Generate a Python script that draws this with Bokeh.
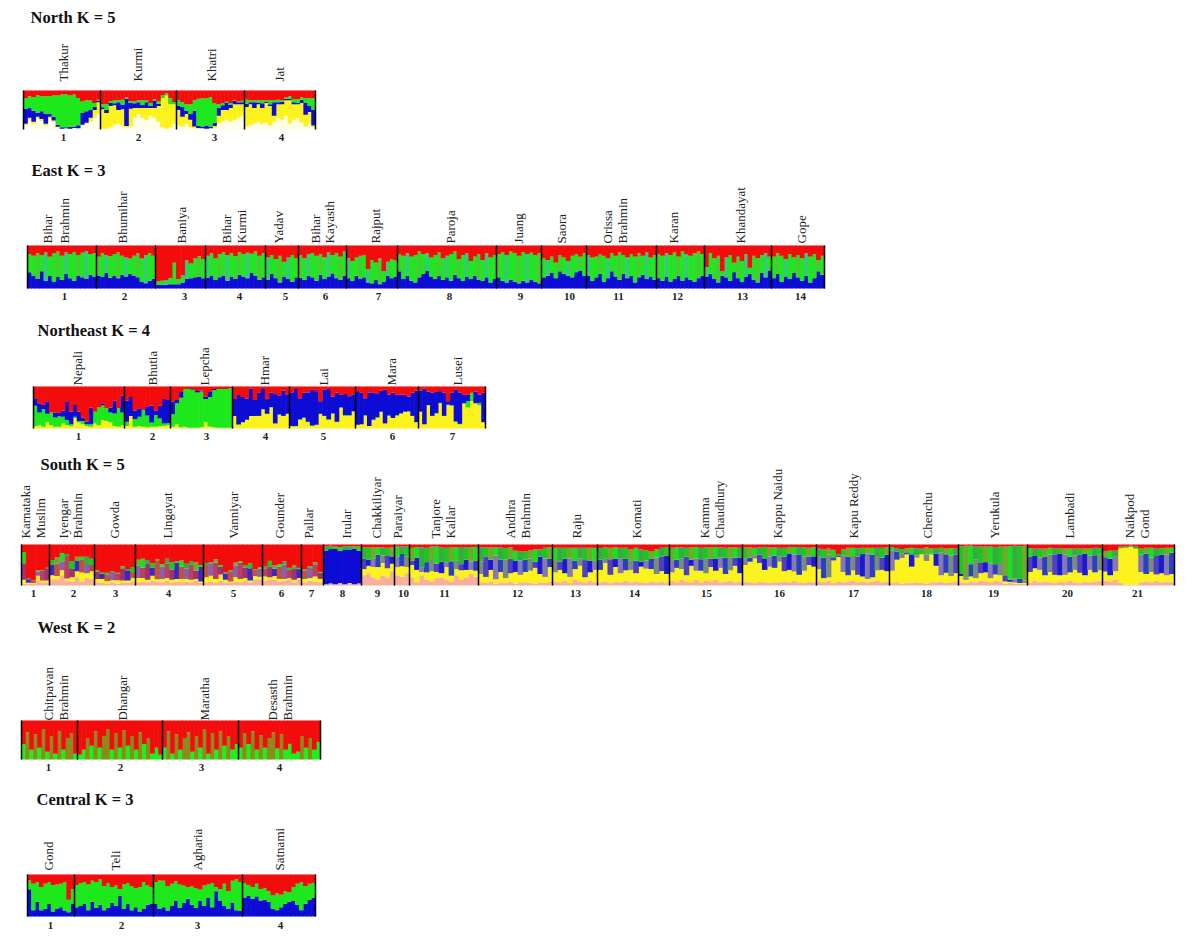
from itertools import cycle, islice
from math import pi
from bokeh.core.properties import value
from bokeh.embed import file_html
from bokeh.resources import INLINE
from bokeh.models import ColumnDataSource, Range1d
from bokeh.plotting import figure

# ---------- values: ancestry share (%) per individual, one inner list per population ----------
NORTH_WHITE = [[12,25,15,28,22,10,28,20,5,2,3,2,4,3,10,15,20,30,40],[2,2,5,12,15,10,5,8,30,40,30,25,35,30,20,5,2,5,15],[10,8,15,5,3,2,3,2,3,4,15,20,25,20,25,30,35],[8,10,15,20,15,18,10,20,30,25,35,15,25,30,18,8,15,5]]
NORTH_YELLOW = [[3,5,5,5,5,5,5,3,2,0,0,0,0,0,2,2,10,20,30],[50,40,55,50,35,42,4,45,25,15,25,30,20,25,40,75,85,60,50],[40,25,25,20,5,2,0,0,0,5,20,30,25,35,40,35,30],[50,55,40,45,40,50,50,15,35,40,40,60,40,35,50,30,30,5]]
NORTH_BLUE = [[38,25,28,10,20,25,8,10,5,4,3,5,3,8,30,30,20,8,3],[5,8,8,5,20,12,70,15,12,15,8,15,5,18,6,0,0,0,0],[10,25,8,15,40,5,5,8,5,8,20,12,18,8,8,5,5],[8,5,15,4,12,4,5,35,5,6,4,4,5,3,8,30,15,40]]
NORTH_GREEN = [[27,30,35,45,38,45,45,55,75,84,85,80,83,70,30,28,25,10,3],[8,15,5,8,5,12,3,5,5,5,12,5,8,4,6,8,5,15,5],[15,12,17,25,27,70,72,70,75,50,10,5,3,5,2,2,4],[10,5,5,6,8,3,10,5,6,4,3,6,8,10,6,12,20,30]]

EAST_BLUE = [[38,30,22,40,18,30,16,28,20,34,24,18,30,26,22,32,28],[30,28,36,25,30,24,32,28,34,30,26,15,12,18,22],[8,8,9,10,10,10,14,22,24,26,28,24],[25,30,20,26,30,18,28,22,32,28,24,36,30,20,26],[20,34,24,14,28,22,16,26],[25,20,30,26,18,32,22,28,35,24,20,30],[24,18,30,22,26,14,12,20,10,16,30,24,28],[40,22,30,18,14,26,34,42,28,22,30,20,26,18,32,24,18,28,22,30,20,18,26,14,22],[26,18,14,20,16,12,18,14,20,16,12],[26,30,36,24,40,34,30,26,38,42,30],[30,18,26,34,16,24,40,28,20,34,24,30,14,26,32,22,28,20],[24,18,28,16,22,30,18,26,20,16,24,30],[28,34,22,14,30,26,18,38,24,16,28,34,20,14,36,26,42],[24,34,16,28,22,36,26,18,30,14,24,40,32]]
EAST_RED = [[20,24,18,22,16,26,18,14,24,16,20,15,22,17,13,20,18],[26,18,22,25,20,16,24,28,30,24,18,30,22,18,24],[84,82,80,76,40,78,70,35,42,30,25,32],[24,18,30,20,16,22,18,25,15,20,17,19,14,24,18],[28,22,32,24,38,28,22,30],[22,30,20,18,24,20,28,16,22,18,26,14],[30,36,28,24,22,55,34,40,30,60,38,32,35],[20,24,18,26,22,14,20,18,28,22,16,30,24,20,14,32,22,18,36,26,20,34,18,28,22],[20,16,22,14,18,24,15,20,17,22,18],[30,34,26,40,22,28,36,24,20,26,18],[22,28,26,20,24,30,18,24,16,22,28,20,26,18,24,16,28,22],[20,24,18,22,16,26,14,20,24,18,14,20],[50,18,30,24,60,28,22,40,26,36,20,52,24,30,22,18,26],[26,18,24,32,20,28,22,30,18,26,20,34,24]]

NE_YELLOW = [[6,8,4,15,8,4,4,12,8,6,25,14,10,6,4,12,8,20,18,14,6,4,8],[6,30,4,6,4,3,4,4,6,6,8],[4,10,3,4,2,2,2,3,15,5,3,2,2,2,2],[30,8,15,20,30,30,30,45,35,50,12,32,30,35],[5,5,20,25,15,6,8,35,30,20,35,15,50,30,30,40],[8,10,30,6,20,25,40,12,30,25,30,35,40,40,30,15],[40,10,55,30,35,60,30,55,55,15,10,60,50,65,60,55,15]]
NE_GREEN = [[48,30,42,20,30,22,25,16,12,4,3,4,8,4,6,28,42,35,30,24,30,45,30],[10,0,18,22,40,28,10,28,18,6,5],[30,50,70,90,92,90,84,85,55,70,88,92,92,92,94],[0,2,0,1,0,0,0,1,0,1,0,2,0,0],[1,1,2,1,1,1,1,0,0,2,1,1,0,2,2,1],[1,0,2,0,1,2,0,0,1,0,2,1,0,1,0,0],[0,0,1,0,2,1,0,2,0,2,1,0,15,20,0,6,0]]
NE_BLUE = [[18,22,10,30,0,12,8,14,45,30,28,22,8,6,40,0,0,5,0,12,30,0,40],[50,45,20,20,2,22,40,10,30,58,55],[30,8,14,0,0,2,3,2,6,12,3,0,0,0,0],[40,70,60,50,65,38,56,50,35,35,70,45,60,45],[80,88,50,60,70,85,80,30,62,72,40,70,30,50,45,40],[80,75,40,80,65,55,50,80,50,60,48,45,40,35,55,75],[50,85,32,55,50,28,55,8,30,75,75,20,15,0,28,20,70]]

SOUTH_PINK = [[4,5,4,12,6,8],[15,15,25,12,10,20,10,18,15],[8,6,5,8,5,8,6,10],[8,10,8,12,10,8,12,6,10,8,10,8,12,6],[8,10,6,12,8,6,10,8,12,8,15,15],[12,14,15,10,12,14,8,14],[8,12,10,8],[3,4,3,6,3,5,3,4],[25,30,20,15,25,20,35],[25,22,30],[20,8,25,14,10,18,20,15,10,25,15,20,28,22],[8,6,10,5,8,6,10,5,8,8,6,5,8,6,10],[10,8,12,6,15,10,8,12,8],[8,10,6,10,8,12,8,10,8,6,10,8,10,6],[12,8,15,10,8,14,8,12,10,14,8,10,12,8,10],[10,8,6,10,8,6,8,8,10,8,12,8,6,10,8],[10,8,12,6,10,8,10,12,8,10,8,10,12,8,10],[6,8,5,6,6,8,6,5,8,8,10,6,8,10],[8,6,10,8,12,10,8,12,10,4,6,4,4,4],[8,12,8,10,8,6,10,8,12,8,6,10,8,10,12],[12,10,15,6,2,2,2,8,10,8,12,8,10,8]]
SOUTH_YELLOW = [[10,2,2,12,6,4],[10,8,12,5,10,15,22,12,20],[8,10,6,5,8,4,6,8],[10,8,6,12,5,8,6,8,6,8,6,6,4,4],[12,14,10,15,6,4,10,8,6,4,8,6],[10,6,8,6,4,4,6,4],[8,6,12,8],[0,1,0,0,0,1,0,1],[15,18,25,30,30,22,18],[20,25,15],[30,30,8,18,25,15,10,30,14,15,22,18,10,14],[20,15,28,10,25,12,20,28,18,25,30,38,20,15,35],[22,30,18,15,25,38,12,20,30],[30,45,20,35,22,25,30,20,38,35,30,20,25,22],[20,35,25,15,40,22,28,18,35,22,35,18,25,40,20],[40,50,60,45,30,40,35,50,25,30,22,18,30,40,38],[30,10,8,55,60,25,15,25,18,12,8,10,25,30,25],[30,55,62,70,40,60,70,55,68,40,15,25,15,20],[15,8,12,10,18,22,10,15,15,6,3,3,2,2],[25,30,30,15,25,20,15,18,20,30,25,15,30,22,25],[22,15,20,85,90,92,88,25,18,25,15,22,15,20]]
SOUTH_BLUE = [[40,8,6,10,25,28],[25,30,22,55,20,25,30,20,15],[18,12,15,20,15,30,25,15],[30,25,40,20,45,30,35,25,40,30,25,38,20,35],[30,30,40,18,15,25,28,40,25,30,15,20],[20,25,18,30,35,20,28,22],[20,25,30,15],[82,84,86,78,85,82,86,80],[25,15,20,30,18,30,18],[25,30,25],[10,30,10,25,30,20,28,12,35,20,15,25,20,25],[30,50,25,58,30,45,35,28,35,30,30,15,42,45,20],[30,20,35,45,20,18,42,28,22],[25,10,38,20,35,28,22,30,12,20,25,40,35,45],[30,20,25,45,15,30,28,35,20,30,25,40,32,20,38],[15,10,8,20,28,25,30,12,35,40,42,50,35,20,25],[30,50,55,8,2,40,45,35,45,55,62,55,35,30,40],[50,20,12,5,30,5,0,15,2,30,55,45,50,45],[5,5,30,45,25,25,35,25,30,15,5,10,10,6],[38,30,30,45,42,50,52,50,38,35,45,52,35,40,38],[35,40,35,0,0,0,0,42,50,35,45,45,50,52]]
SOUTH_GREEN = [[28,3,0,4,1,3],[12,15,20,5,20,10,8,20,15],[4,3,5,2,3,5,3,12],[15,22,8,10,4,6,12,18,4,15,12,8,20,5],[5,3,8,5,3,2,8,4,6,12,2,3],[4,15,8,6,8,5,8,3],[3,4,5,2],[10,8,6,10,8,8,7,10],[28,30,28,18,20,20,22],[25,18,25],[32,26,50,35,30,42,35,35,35,33,42,30,36,33],[35,22,30,20,30,28,28,24,22,20,20,30,18,26,28],[30,34,27,26,32,26,30,32,32],[28,28,28,28,27,27,28,32,30,25,18,20,22,20],[30,30,28,22,30,28,28,28,28,28,25,24,24,25,24],[28,25,18,18,28,22,20,22,22,16,18,18,22,22,22],[20,20,15,18,5,15,22,20,20,15,14,17,20,24,18],[8,8,10,10,16,18,14,18,12,12,12,14,18,15],[68,78,45,32,40,38,42,42,40,70,82,80,80,85],[20,18,22,20,17,14,13,14,20,17,14,13,17,20,16],[15,20,15,4,3,3,5,15,14,24,18,16,17,12]]

WEST_GREEN = [[40,70,25,65,30,78,20,60,15,72,25,55,68,15],[12,25,55,35,72,30,60,78,25,68,30,75,35,60,25,70,40,55,15,30,12],[30,72,15,65,25,55,70,20,60,30,78,15,68,25,72,35,60,25,40],[30,68,40,72,25,62,30,55,70,28,65,25,40,15,20,60,30,55,25,45]]

CENTRAL_BLUE = [[65,15,35,15,18,30,12,18,22,14,10,30],[22,25,30,15,35,20,28,15,20,32,25,50,18,30,15,22,12,18,28,30],[30,18,22,14,25,38,20,32,42,28,20,38,25,45,22,60,38,25,18,32,15,14],[45,50,42,48,38,40,35,18,15,22,30,35,38,28,15,30,40,45]]
CENTRAL_RED = [[14,22,18,30,22,18,25,24,22,18,60,35],[25,20,18,24,15,18,12,28,20,30,26,35,24,20,28,32,30,18,26,30],[18,14,15,28,22,16,24,26,30,28,32,36,26,24,20,30,35,22,40,15,12,18],[20,25,30,22,35,32,40,50,45,48,40,42,30,22,18,28,22,20]]

# ---------- labels ----------
NORTH_NAMES = ["Thakur","Kurmi","Khatri","Jat"]
EAST_NAMES = ["Bihar","Brahmin","Bhumihar","Baniya","Bihar","Kurmi","Yadav","Bihar","Kayasth","Rajput","Paroja","Juang","Saora","Orissa","Brahmin","Karan","Khandayat","Gope"]
NE_NAMES = ["Nepali","Bhutia","Lepcha","Hmar","Lai","Mara","Lusei"]
SOUTH_NAMES = ["Karnataka","Muslim","Iyengar","Brahmin","Gowda","Lingayat","Vanniyar","Gounder","Pallar","Irular","Chakkiliyar","Paraiyar","Tanjore","Kallar","Andhra","Brahmin","Raju","Komati","Kamma","Chaudhury","Kappu Naidu","Kapu Reddy","Chenchu","Yerukula","Lambadi","Naikpod","Gond"]
WEST_NAMES = ["Chitpavan","Brahmin","Dhangar","Maratha","Desasth","Brahmin"]
CENTRAL_NAMES = ["Gond","Teli","Agharia","Satnami"]

# ---------- layout and style (reference pixels) ----------
C = dict(white="#fffdea", yellow="#fdf31c", blue="#0c0cd4", green="#1ce81c", red="#f40c0c", pink="#f7b09e")
MIX_RED = ["#a03070", "#3a28c0", "#c05040", "#8a60a8", "#b84060"]
MIX_COOL = ["#1a1ad0", "#8878b0", "#2a40c0", "#7a8a80", "#5040c0"]
GREEN_SOUTH = ["#20dc20", "#3aa848", "#1cc820", "#70a830"]
GREEN_EAST = ["#1ce81c", "#28e028", "#44cc30", "#1ce81c", "#38c878"]
OLIVE = "#8c8a1c"

PANELS = [
 dict(title="North K = 5", tx=30, ty=17, box=(90,129), bounds=[23,100,176,244,315],
      names=NORTH_NAMES, name_x=[63,137,211,279], num_x=[63,138,214,281], name_y=81, num_y=137,
      series=[(NORTH_WHITE,C["white"]),(NORTH_YELLOW,C["yellow"]),(NORTH_BLUE,C["blue"]),(NORTH_GREEN,C["green"])]),
 dict(title="East K = 3", tx=31, ty=170, box=(245,288), bounds=[27,96,155,205,265,298,346,397,496,541,586,656,704,771,824],
      names=EAST_NAMES, name_x=[47,64,122,181,226,241,278,315,329,375,450,518,561,607,622,673,740,801],
      num_x=[64,124,184,239,285,325,378,449,520,569,618,677,742,800], name_y=243, num_y=296,
      series=[(EAST_BLUE,C["blue"]),(None,GREEN_EAST)], red=EAST_RED),
 dict(title="Northeast K = 4", tx=37, ty=330, box=(386,428), bounds=[33,124,170,232,289,355,418,485],
      names=NE_NAMES, name_x=[77,152,204,264,323,391,457], num_x=[78,152,206,265,323,392,452], name_y=385, num_y=436,
      series=[(NE_YELLOW,C["yellow"]),(NE_GREEN,C["green"]),(NE_BLUE,C["blue"])]),
 dict(title="South K = 5", tx=40, ty=464, box=(544,585), bounds=[21,49,94,135,203,262,301,323,361,394,409,478,552,597,669,742,816,889,958,1027,1102,1174],
      names=SOUTH_NAMES, name_x=[25,40,63,77,114,167,233,279,308,346,376,397,435,450,510,525,576,636,704,719,777,853,927,994,1069,1129,1144],
      num_x=[33,73,115,168,233,281,311,342,377,403,444,517,575,634,706,779,853,926,993,1067,1137], name_y=538, num_y=593,
      series=[(SOUTH_PINK,C["pink"]),(SOUTH_YELLOW,C["yellow"]),(SOUTH_BLUE,"mix"),(SOUTH_GREEN,GREEN_SOUTH)]),
 dict(title="West K = 2", tx=37, ty=627, box=(720,759), bounds=[21,77,162,238,320],
      names=WEST_NAMES, name_x=[48,63,122,204,272,287], num_x=[48,120,201,279], name_y=720, num_y=767,
      series=[(WEST_GREEN,"tall")]),
 dict(title="Central K = 3", tx=36, ty=799, box=(874,916), bounds=[27,74,153,242,315],
      names=CENTRAL_NAMES, name_x=[48,115,197,279], num_x=[50,121,197,280], name_y=870, num_y=925,
      series=[(CENTRAL_BLUE,C["blue"]),(None,C["green"])], red=CENTRAL_RED),
]
SERIF = value("Liberation Serif")
PAGE_W, PAGE_H = 1190, 940

p = figure(width=PAGE_W, height=PAGE_H, x_range=Range1d(0, PAGE_W), y_range=Range1d(PAGE_H, 0),
           x_axis_type=None, y_axis_type=None, toolbar_location=None, output_backend="svg",
           min_border=0, outline_line_color=None)
p.grid.visible = False


def draw_panel(k, P):
    yt, yb = P["box"]; b = P["bounds"]
    # each panel has its own 0-100 % scale, placed on the page by its range
    rng = f"panel{k}"
    to_val = lambda px: (yb-px)/(yb-yt)*100
    p.extra_y_ranges[rng] = Range1d(to_val(PAGE_H), to_val(0))

    xs, widths, gidx = [], [], []
    for g, vals in enumerate(P["series"][0][0]):
        step = (b[g+1]-b[g])/len(vals)
        for i in range(len(vals)):
            xs.append(b[g]+(i+.5)*step); widths.append(step+0.6); gidx.append(g)
    n = len(xs)
    bottom = [0.0]*n
    red = [v for grp in P["red"] for v in grp] if "red" in P else None

    for vals, col in P["series"]:
        h = [100-bottom[i]-red[i] for i in range(n)] if vals is None else [v for grp in vals for v in grp]
        top = [bottom[i]+max(h[i], 0) for i in range(n)]
        if col == "mix":
            colors = [(C["blue"] if gidx[i] == 7 else (MIX_RED if gidx[i] < 7 else MIX_COOL)[i % 5]) for i in range(n)]
        elif col == "tall":
            colors = [OLIVE if h[i] > 50 else "#1cf01c" for i in range(n)]
        elif isinstance(col, list):
            colors = list(islice(cycle(col), n))
        else:
            colors = [col]*n
        p.vbar(x="x", bottom="b", top="t", width="w", fill_color="c", line_color=None, y_range_name=rng,
               source=ColumnDataSource(dict(x=xs, b=bottom, t=top, w=widths, c=colors)))
        bottom = top
    p.vbar(x="x", bottom="b", top="t", width="w", fill_color=C["red"], line_color=None, y_range_name=rng,
           source=ColumnDataSource(dict(x=xs, b=bottom, t=[100]*n, w=widths)))

    p.segment(x0=b, x1=b, y0=[0]*len(b), y1=[100]*len(b), line_color="#000000", line_width=1.5, y_range_name=rng)

    p.text(x=P["name_x"], y=[P["name_y"]]*len(P["name_x"]), text=P["names"], angle=pi/2, text_font=SERIF,
           text_font_size="13px", text_color="#222222", text_align="left", text_baseline="middle")
    p.text(x=P["num_x"], y=[P["num_y"]]*len(P["num_x"]), text=[str(i+1) for i in range(len(P["num_x"]))],
           text_font=SERIF, text_font_size="11px", text_font_style="bold", text_color="#222222",
           text_align="center", text_baseline="middle")
    p.text(x=[P["tx"]], y=[P["ty"]], text=[P["title"]], text_font=SERIF, text_font_size="16.5px",
           text_font_style="bold", text_color="#111111", text_align="left", text_baseline="middle")


for k, P in enumerate(PANELS):
    draw_panel(k, P)

open("out.html", "w").write(file_html(p, INLINE))
